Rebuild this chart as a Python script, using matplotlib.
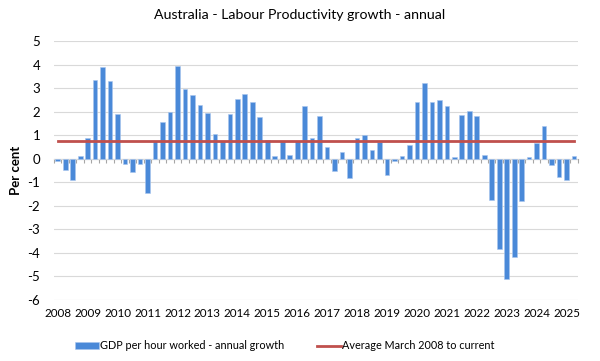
import numpy as np
import matplotlib
matplotlib.use('Agg')
import matplotlib.pyplot as plt

plt.rcParams['font.family'] = ['Lato', 'DejaVu Sans']

# quarterly, March 2008 to June 2025
growth = [
    -0.1, -0.47, -0.92, 0.11,          # 2008
    0.9, 3.33, 3.9, 3.32,              # 2009
    1.92, -0.23, -0.56, -0.23,         # 2010
    -1.45, 0.75, 1.55, 2.0,            # 2011
    3.94, 2.98, 2.73, 2.27,            # 2012
    1.95, 1.06, 0.75, 1.9,             # 2013
    2.55, 2.76, 2.43, 1.77,            # 2014
    0.8, 0.1, 0.74, 0.18,              # 2015
    0.74, 2.26, 0.9, 1.84,             # 2016
    0.5, -0.51, 0.3, -0.8,             # 2017
    0.89, 1.0, 0.38, 0.72,             # 2018
    -0.7, -0.1, 0.1, 0.58,             # 2019
    2.43, 3.21, 2.42, 2.49,            # 2020
    2.26, 0.08, 1.85, 2.05,            # 2021
    1.82, 0.18, -1.74, -3.82,          # 2022
    -5.11, -4.18, -1.78, 0.08,         # 2023
    0.68, 1.4, -0.28, -0.78,           # 2024
    -0.89, 0.1,                        # 2025
]
avg_since_2008 = 0.77
years = list(range(2008, 2026))
y_ticks = list(range(-6, 6))

x = np.arange(len(growth))

fig = plt.figure(figsize=(6, 3.61), dpi=100)
ax = fig.add_axes([0.09, 0.169, 0.873, 0.717])

bars = ax.bar(x, growth, width=0.62, color='#4a89d8', edgecolor='#a9c6ee', linewidth=0.4,
              label='GDP per hour worked - annual growth', zorder=2)
line, = ax.plot(x, [avg_since_2008] * len(x), color='#c0504d', lw=2,
                label='Average March 2008 to current', zorder=3)

ax.set_xlim(-0.5, len(growth) - 0.5)
ax.set_ylim(-6, 5)
ax.set_yticks(y_ticks)
ax.set_yticklabels([str(v) for v in y_ticks], fontsize=9.5)
ax.tick_params(axis='y', length=0, pad=10)
ax.yaxis.grid(True, color='#d9d9d9', lw=0.8)
ax.set_axisbelow(True)
for s in ax.spines.values():
    s.set_visible(False)

# year labels at the March quarter, along the bottom
ax.set_xticks([(y - 2008) * 4 for y in years])
ax.set_xticklabels([str(y) for y in years], fontsize=8.4)
ax.tick_params(axis='x', length=0, pad=6)

# category axis drawn through zero with ticks between quarters
zero_ax = ax.secondary_xaxis(0, transform=ax.transData)
zero_ax.set_xticks(np.arange(-0.5, len(growth), 1.0))
zero_ax.set_xticklabels([])
zero_ax.tick_params(axis='x', length=3, width=0.8, color='#a6a6a6', direction='out')
zero_ax.spines['bottom'].set_color('#a6a6a6')
zero_ax.spines['bottom'].set_linewidth(0.8)

ax.set_ylabel('Per cent', fontsize=9.5, fontweight='bold', labelpad=4)
fig.suptitle('Australia - Labour Productivity growth - annual', fontsize=10.2, y=0.975)

fig.legend(handles=[bars, line], loc='lower center', bbox_to_anchor=(0.475, 0.0), ncol=2,
           frameon=False, fontsize=7.8, handlelength=2.2, handleheight=0.6,
           columnspacing=3.0, handletextpad=0.1)

fig.savefig('out.png', dpi=100)
